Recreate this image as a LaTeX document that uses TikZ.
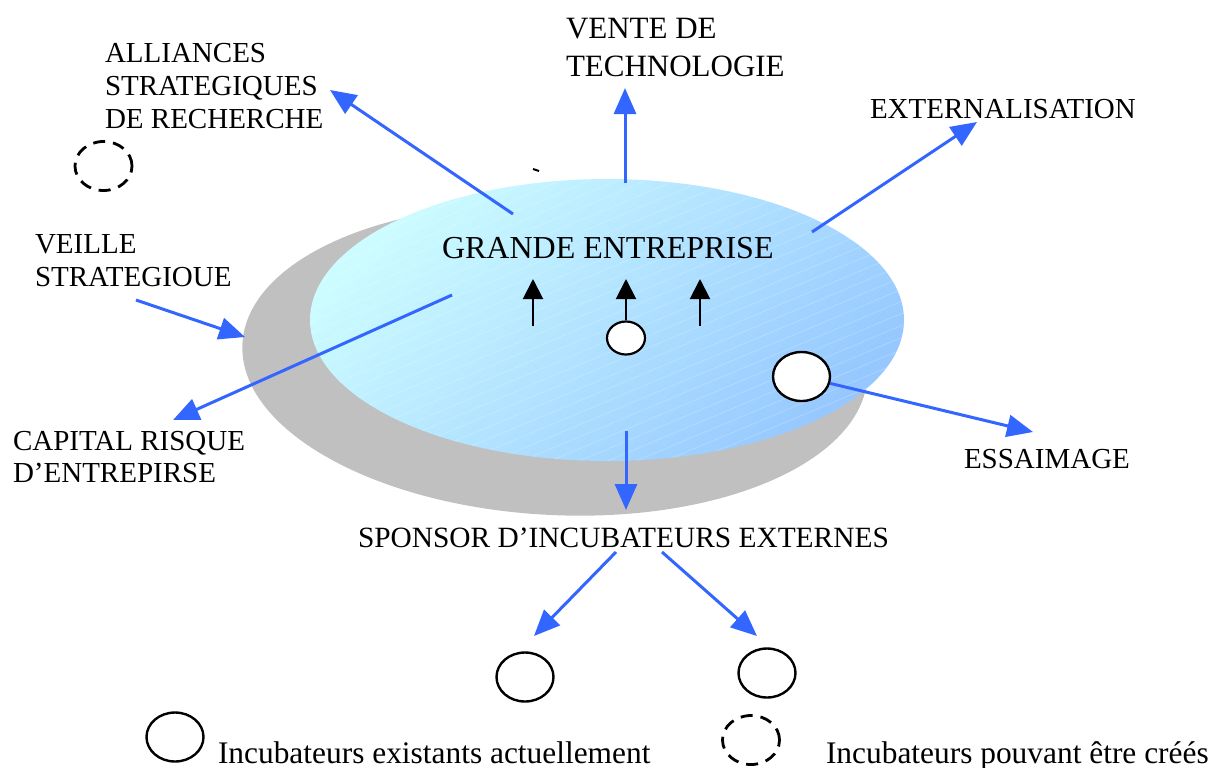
\documentclass[tikz,border=0pt]{standalone}
\usepackage{fontspec}
\setmainfont{Liberation Serif}
\usetikzlibrary{arrows.meta,shapes.geometric}
\definecolor{arrowblue}{RGB}{51,102,255}
\definecolor{diskgray}{RGB}{192,192,192}
\definecolor{topcyan}{RGB}{204,252,255}
\definecolor{botblue}{RGB}{150,200,255}
\begin{document}
\begin{tikzpicture}[x=0.5pt,y=-0.5pt,
  lbl/.style={inner sep=0pt, outer sep=0pt, anchor=base west, align=left, font=\fontsize{14.5}{16.5}\selectfont},
  bluearrow/.style={draw=arrowblue, line width=1.5pt, -{Triangle[length=13pt,width=11pt]}},
  blackarrow/.style={draw=black, line width=1pt, -{Triangle[length=10pt,width=10pt]}},
  incub/.style={draw=black, fill=white, ellipse, line width=1.2pt, inner sep=0pt, minimum width=28.5pt, minimum height=24.5pt},
  incubsmall/.style={incub, minimum width=19pt, minimum height=16.5pt, line width=1.1pt},
  futureincub/.style={incub, fill=none, line width=1.4pt, dash pattern=on 6pt off 4pt}
]
\useasboundingbox (0,0) rectangle (1211,767);

% disk
\fill[diskgray] (555,360) ellipse [x radius=313, y radius=155, rotate=-3];
\shade[top color=topcyan, bottom color=botblue, shading angle=45] (607,320) ellipse [x radius=297, y radius=141];
\begin{scope}
  \clip (607,320) ellipse [x radius=297, y radius=141];
  \foreach \c in {170,182,...,740}
    \draw[white, opacity=0.2, line width=0.4pt] (300,\c) -- (910,\c-256);
\end{scope}
\draw[line width=1pt] (533,169) -- (539,171);

% texts (multi-line nodes: base = baseline of last line)
\node[lbl] (alliances) at (105,128) {ALLIANCES\\STRATEGIQUES\\DE RECHERCHE};
\node[lbl, font=\fontsize{15.5}{19}\selectfont] (vente) at (566,76) {VENTE DE\\TECHNOLOGIE};
\node[lbl] (extern) at (870,118) {EXTERNALISATION};
\node[lbl] (veille) at (35,286) {VEILLE\\STRATEGIOUE};
\node[lbl, font=\fontsize{14.5}{16}\selectfont] (capital) at (13,482) {CAPITAL RISQUE\\D’ENTREPIRSE};
\node[lbl, font=\fontsize{16}{19}\selectfont] (grande) at (442,258) {GRANDE ENTREPRISE};
\node[lbl] (essaimage) at (964,468) {ESSAIMAGE};
\node[lbl, font=\fontsize{14.7}{17}\selectfont] (sponsor) at (358,547) {SPONSOR D’INCUBATEURS EXTERNES};
\node[lbl, font=\fontsize{15.7}{18}\selectfont] (legA) at (218,763) {Incubateurs existants actuellement};
\node[lbl, font=\fontsize{15.7}{18}\selectfont] (legB) at (826,763) {Incubateurs pouvant être créés};

% incubators
\node[futureincub] (fut1) at (103.5,166) {};
\node[incubsmall] (c0) at (626,338) {};
\node[incub] (ess) at (801.5,376.5) {};
\node[incub] (inL) at (525,677) {};
\node[incub] (inR) at (767,673) {};
\node[incub] (legAc) at (175,737) {};
\node[futureincub] (legBc) at (751,740) {};

% coordinates
\coordinate (aS) at (513,214);  \coordinate (aT) at (330,90);
\coordinate (vS) at (625,183);  \coordinate (vT) at (625,88);
\coordinate (eS) at (812,232);  \coordinate (eT) at (977,122);
\coordinate (wS) at (136,300);  \coordinate (wT) at (245,337);
\coordinate (kS) at (452,295);  \coordinate (kT) at (173,420);
\coordinate (sT) at (1033,432);
\coordinate (dS) at (626,431);  \coordinate (dT) at (626,510);
\coordinate (lS) at (616,552);  \coordinate (lT) at (534,636);
\coordinate (rS) at (662,552);  \coordinate (rT) at (757,636);
\coordinate (b1S) at (533,326); \coordinate (b1T) at (533,279);
\coordinate (b2T) at (626,279);
\coordinate (b3S) at (700,326); \coordinate (b3T) at (700,279);

% blue arrows
\draw[bluearrow] (aS) -- (aT);
\draw[bluearrow] (vS) -- (vT);
\draw[bluearrow] (eS) -- (eT);
\draw[bluearrow] (wS) -- (wT);
\draw[bluearrow] (kS) -- (kT);
\draw[bluearrow] (ess) -- (sT);
\draw[bluearrow] (dS) -- (dT);
\draw[bluearrow] (lS) -- (lT);
\draw[bluearrow] (rS) -- (rT);

% black arrows
\draw[blackarrow] (b1S) -- (b1T);
\draw[blackarrow] (c0) -- (b2T);
\draw[blackarrow] (b3S) -- (b3T);
\end{tikzpicture}
\end{document}
